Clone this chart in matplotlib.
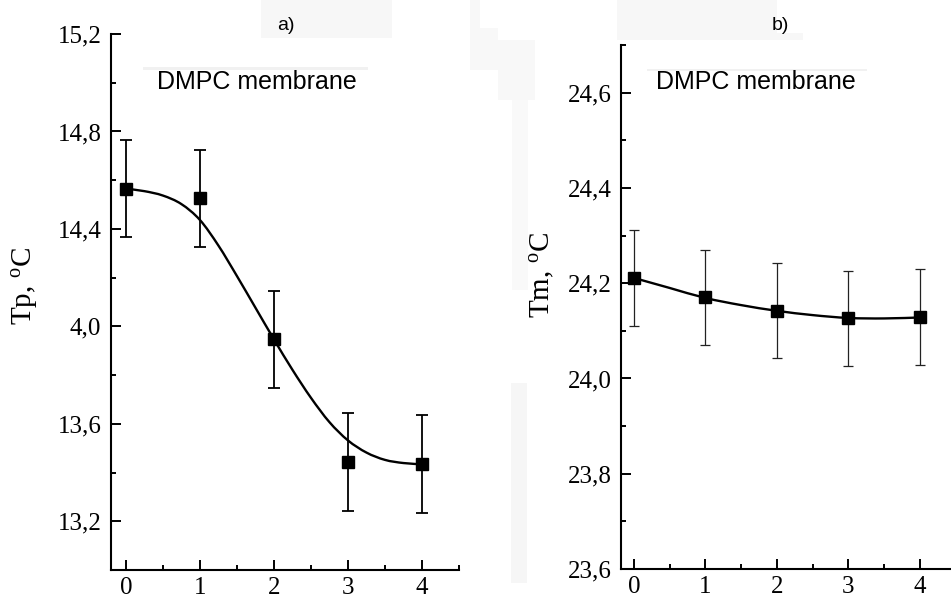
import matplotlib
matplotlib.use("Agg")
import matplotlib.pyplot as plt
from matplotlib.patches import Rectangle, PathPatch
from matplotlib.path import Path
from matplotlib.ticker import FixedLocator, FixedFormatter

# ---------------- data ----------------
x_points = [0, 1, 2, 3, 4]
x_ticklabels = ["0", "1", "2", "3", "4"]

tp_values = [14.565, 14.525, 13.947, 13.444, 13.436]
tp_errors = [0.2, 0.2, 0.2, 0.2, 0.2]
tp_curve_x = [0, 0.25, 0.5, 0.75, 1.0, 1.25, 1.5, 1.75, 2.0, 2.25, 2.5, 2.75, 3.0, 3.25, 3.5, 3.75, 4.0]
tp_curve_y = [14.565, 14.555, 14.537, 14.502, 14.437, 14.332, 14.207, 14.077, 13.947,
              13.822, 13.707, 13.607, 13.532, 13.482, 13.452, 13.439, 13.434]
tp_yticks = [13.2, 13.6, 14.0, 14.4, 14.8, 15.2]
tp_yticklabels = ["13,2", "13,6", "4,0", "14,4", "14,8", "15,2"]
tp_yminor = [13.0, 13.4, 13.8, 14.2, 14.6, 15.0]

tm_values = [24.211, 24.170, 24.142, 24.126, 24.129]
tm_errors = [0.1, 0.1, 0.1, 0.1, 0.1]
tm_curve_x = [0, 0.5, 1.0, 1.5, 2.0, 2.5, 3.0, 3.5, 4.0]
tm_curve_y = [24.211, 24.190, 24.169, 24.154, 24.142, 24.133, 24.127, 24.126, 24.128]
tm_yticks = [23.6, 23.8, 24.0, 24.2, 24.4, 24.6]
tm_yticklabels = ["23,6", "23,8", "24,0", "24,2", "24,4", "24,6"]
tm_yminor = [23.7, 23.9, 24.1, 24.3, 24.5, 24.7]

x_minor = [0.5, 1.5, 2.5, 3.5, 4.5]

panel_titles = ["a)", "b)"]
inner_label = "DMPC membrane"
ylabels = ["Tp, $^\\mathrm{o}$C", "Tm, $^\\mathrm{o}$C"]

# ---------------- style ----------------
SERIF = 'Liberation Serif'
SANS = 'Liberation Sans'
plt.rcParams['font.family'] = [SERIF, 'DejaVu Serif']
plt.rcParams['mathtext.fontset'] = 'custom'
plt.rcParams['mathtext.rm'] = SERIF
plt.rcParams['mathtext.it'] = SERIF + ':italic'

W, H = 951, 602
fig = plt.figure(figsize=(W / 100, H / 100), dpi=100)

def fx(px):
    return px / W

def fy(py):
    return 1 - py / H

# faint scan artefacts
for (x0, y0, x1, y1, c) in [
    (261, 0, 392, 38, '#f7f7f7'),
    (470, 0, 480, 70, '#f8f8f8'),
    (472, 28, 498, 70, '#f8f8f8'),
    (498, 40, 535, 100, '#f8f8f8'),
    (512, 100, 528, 290, '#f9f9f9'),
    (617, 0, 777, 40, '#f7f7f7'),
    (777, 33, 803, 40, '#f7f7f7'),
    (511, 383, 527, 583, '#f6f6f6'),
    (143, 67, 368, 70, '#f1f1f1'),
    (647, 69, 867, 71, '#f1f1f1'),
]:
    fig.patches.append(Rectangle((fx(x0), fy(y1)), fx(x1) - fx(x0), fy(y0) - fy(y1),
                                 transform=fig.transFigure, color=c, zorder=0, lw=0))


def smooth_path(xs, ys):
    """Catmull-Rom curve through the read points, drawn as cubic Bezier segments."""
    pts = list(zip(xs, ys))
    verts = [pts[0]]
    codes = [Path.MOVETO]
    n = len(pts)
    for i in range(n - 1):
        p0 = pts[i - 1] if i > 0 else pts[i]
        p1 = pts[i]
        p2 = pts[i + 1]
        p3 = pts[i + 2] if i + 2 < n else pts[i + 1]
        c1 = (p1[0] + (p2[0] - p0[0]) / 6, p1[1] + (p2[1] - p0[1]) / 6)
        c2 = (p2[0] - (p3[0] - p1[0]) / 6, p2[1] - (p3[1] - p1[1]) / 6)
        verts += [c1, c2, p2]
        codes += [Path.CURVE4] * 3
    return Path(verts, codes)


def setup(ax, xlim, ylim, yticks, ylabels_, yminor):
    ax.set_xlim(*xlim)
    ax.set_ylim(*ylim)
    ax.patch.set_alpha(0)
    for s in ['top', 'right']:
        ax.spines[s].set_visible(False)
    for s in ['left', 'bottom']:
        ax.spines[s].set_linewidth(1.5)
    ax.xaxis.set_major_locator(FixedLocator(x_points))
    ax.xaxis.set_major_formatter(FixedFormatter(x_ticklabels))
    ax.xaxis.set_minor_locator(FixedLocator(x_minor))
    ax.yaxis.set_major_locator(FixedLocator(yticks))
    ax.yaxis.set_major_formatter(FixedFormatter(ylabels_))
    ax.yaxis.set_minor_locator(FixedLocator(yminor))
    ax.tick_params(which='both', direction='in', width=1.4, colors='black', labelsize=18)
    ax.tick_params(which='major', length=7.5)
    ax.tick_params(which='minor', length=3.8)
    ax.tick_params(axis='y', which='major', pad=7)
    ax.tick_params(axis='x', which='major', pad=5)

# ---- panel a ----
ax1 = fig.add_axes([fx(111), fy(570), fx(459) - fx(111), fy(34) - fy(570)])
setup(ax1, (-0.2, 4.5), (13.0, 15.2), tp_yticks, tp_yticklabels, tp_yminor)
ax1.add_patch(PathPatch(smooth_path(tp_curve_x, tp_curve_y), fill=False,
                        edgecolor='black', lw=1.7, zorder=2))
ax1.errorbar(x_points, tp_values, yerr=tp_errors, fmt='none', ecolor='black',
             elinewidth=1.3, capsize=4, capthick=1.3, zorder=3)
ax1.plot(x_points, tp_values, 's', color='black', markersize=8, zorder=4)

# ---- panel b ----
ax2 = fig.add_axes([fx(621), fy(569), fx(621 + 4.68 * 71.5) - fx(621), fy(45) - fy(569)])
setup(ax2, (-0.18, 4.5), (23.6, 24.7), tm_yticks, tm_yticklabels, tm_yminor)
ax2.add_patch(PathPatch(smooth_path(tm_curve_x, tm_curve_y), fill=False,
                        edgecolor='black', lw=1.7, zorder=2))
ax2.errorbar(x_points, tm_values, yerr=tm_errors, fmt='none', ecolor='#222222',
             elinewidth=0.9, capsize=3.8, capthick=0.9, zorder=3)
ax2.plot(x_points, tm_values, 's', color='black', markersize=8, zorder=4)

# ---- texts ----
fig.text(fx(286), fy(25), panel_titles[0], family=SANS, fontsize=14, ha='center', va='center')
fig.text(fx(780), fy(25), panel_titles[1], family=SANS, fontsize=14, ha='center', va='center')
fig.text(fx(257), fy(82), inner_label, family=SANS, fontsize=18, ha='center', va='center')
fig.text(fx(756), fy(82), inner_label, family=SANS, fontsize=18, ha='center', va='center')
fig.text(fx(25), fy(286), ylabels[0], family=SERIF, fontsize=21, rotation=90, ha='center', va='center')
fig.text(fx(543), fy(275), ylabels[1], family=SERIF, fontsize=21, rotation=90, ha='center', va='center')

fig.savefig('out.png', dpi=100)
